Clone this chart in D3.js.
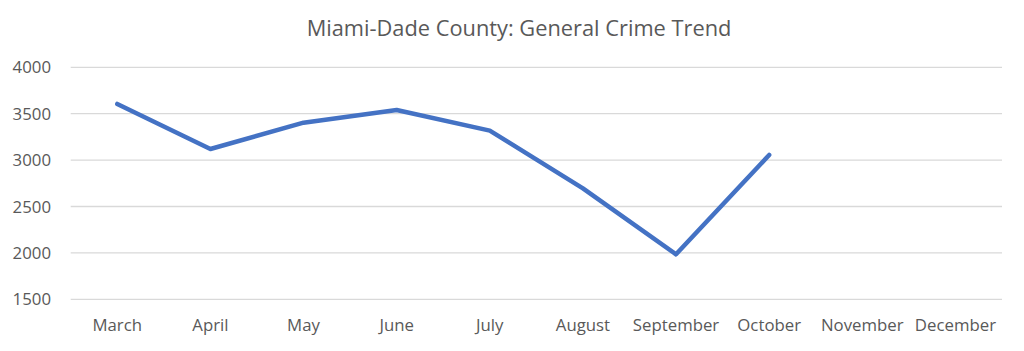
<!DOCTYPE html>
<html><head><meta charset="utf-8">
<script src="https://cdn.jsdelivr.net/npm/d3@7"></script>
<style>body{margin:0;background:#fff;} text{font-family:"Open Sans",sans-serif;fill:#595959;}</style>
</head><body><svg id="c" width="1024" height="351"></svg>
<script>
const months = ["March","April","May","June","July","August","September","October","November","December"];
const crimes = [3605, 3120, 3403, 3540, 3318, 2696, 1985, 3055];
const yTicks = [1500, 2000, 2500, 3000, 3500, 4000];
const title = "Miami-Dade County: General Crime Trend";

(function(){
const svg = d3.select("#c");
const L = 70.7, R = 1002, T = 67.3, B = 299.3;
const x = d3.scaleBand().domain(months).range([L, R]);
const y = d3.scaleLinear().domain([1500, 4000]).range([B, T]);

svg.append("g").selectAll("line").data(yTicks).join("line")
  .attr("x1", L).attr("x2", R)
  .attr("y1", d => y(d)).attr("y2", d => y(d))
  .attr("stroke", "#d9d9d9").attr("stroke-width", 1.3);

svg.append("g").selectAll("text").data(yTicks).join("text")
  .attr("x", 51).attr("y", d => y(d)).attr("dy", "0.36em")
  .attr("text-anchor", "end").attr("font-size", 16.8).text(d => d);

svg.append("g").selectAll("text").data(months).join("text")
  .attr("x", d => x(d) + x.bandwidth()/2).attr("y", 325).attr("dy", "0.36em")
  .attr("text-anchor", "middle").attr("font-size", 16.8).text(d => d);

svg.append("text").attr("x", 519).attr("y", 28).attr("dy", "0.36em")
  .attr("text-anchor", "middle").attr("font-size", 21.8).text(title);

const line = d3.line().x((d, i) => x(months[i]) + x.bandwidth()/2).y(d => y(d));
svg.append("path").datum(crimes).attr("d", line)
  .attr("fill", "none").attr("stroke", "#4472C4").attr("stroke-width", 4.5)
  .attr("stroke-linejoin", "round").attr("stroke-linecap", "round");
})();
</script></body></html>
